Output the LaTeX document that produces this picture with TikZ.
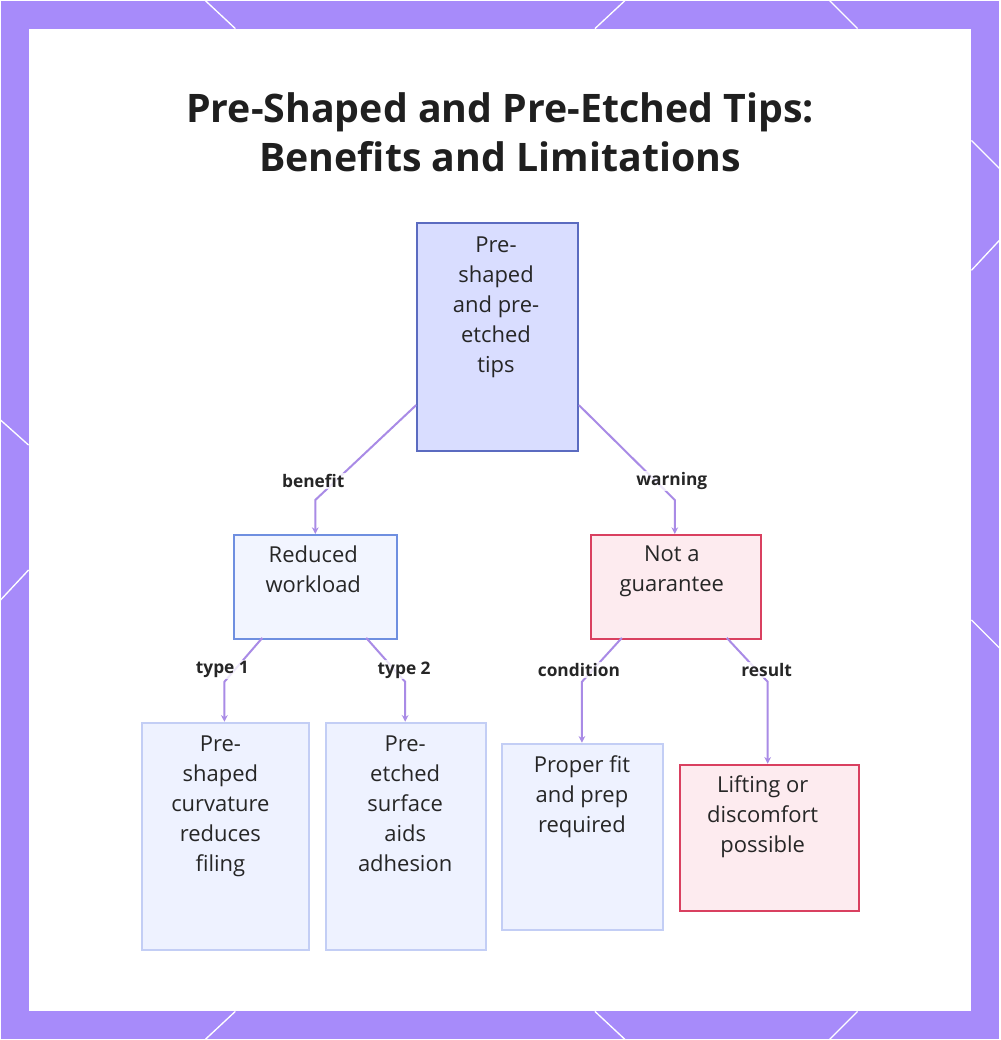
\documentclass[tikz,border=0pt]{standalone}
\usepackage{fontspec}
\setmainfont{Open Sans}
\usetikzlibrary{arrows.meta}
\definecolor{frame}{HTML}{A78BFA}
\definecolor{edge}{HTML}{A98BE6}
\definecolor{rootfill}{HTML}{D9DDFF}
\definecolor{rootdraw}{HTML}{5B6BC0}
\definecolor{bluefill}{HTML}{F2F5FF}
\definecolor{bluedraw}{HTML}{6F8FE0}
\definecolor{leaffill}{HTML}{EEF2FF}
\definecolor{leafdraw}{HTML}{C3CEF5}
\definecolor{redfill}{HTML}{FDEBEF}
\definecolor{reddraw}{HTML}{D94060}
\begin{document}
\begin{tikzpicture}[x=0.75pt,y=-0.75pt,
  box/.style={draw,line width=1.5pt,inner sep=0,anchor=north west},
  txt/.style={align=center,font=\fontsize{16.5}{22.5}\selectfont,text=black!85,anchor=north,inner sep=0},
  conn/.style={edge,line width=1.5pt,-{Stealth[length=5pt,width=5pt]}},
  lab/.style={font=\bfseries\fontsize{13}{15}\selectfont,text=black!85,fill=white,fill opacity=0.8,text opacity=1,inner sep=1pt}]
\fill[frame] (0,0) rectangle (1000,1040);
\fill[white] (28,28) rectangle (972,1012);
\begin{scope}[white,line width=1pt]
\draw (205,0)--(235,28); \draw (595,28)--(625,0); \draw (830,0)--(858,28);
\draw (972,140)--(1000,168); \draw (972,270)--(1000,240); \draw (972,620)--(1000,648);
\draw (0,420)--(28,445); \draw (0,600)--(28,570);
\draw (205,1040)--(235,1012); \draw (595,1012)--(625,1040); \draw (830,1040)--(858,1012);
\end{scope}
\node[font=\bfseries\fontsize{29.5}{37}\selectfont,text=black!88,align=center] (title) at (500,132) {Pre-Shaped and Pre-Etched Tips:\\Benefits and Limitations};
\node[box,draw=rootdraw,fill=rootfill,minimum width=161*0.75pt,minimum height=228*0.75pt] (root) at (416,222) {};
\node[txt] (rootT) at (496,236) {Pre-\\shaped\\and pre-\\etched\\tips};
\node[box,draw=bluedraw,fill=bluefill,minimum width=163*0.75pt,minimum height=104*0.75pt] (rw) at (233,534) {};
\node[txt] (rwT) at (313,546) {Reduced\\workload};
\node[box,draw=reddraw,fill=redfill,minimum width=170*0.75pt,minimum height=104*0.75pt] (ng) at (590,534) {};
\node[txt] (ngT) at (672,546) {Not a\\guarantee};
\node[box,draw=leafdraw,fill=leaffill,minimum width=167*0.75pt,minimum height=228*0.75pt] (ps) at (141,722) {};
\node[txt] (psT) at (220,736) {Pre-\\shaped\\curvature\\reduces\\filing};
\node[box,draw=leafdraw,fill=leaffill,minimum width=160*0.75pt,minimum height=228*0.75pt] (pe) at (325,722) {};
\node[txt] (peT) at (405,736) {Pre-\\etched\\surface\\aids\\adhesion};
\node[box,draw=leafdraw,fill=leaffill,minimum width=161*0.75pt,minimum height=187*0.75pt] (pf) at (501,743) {};
\node[txt] (pfT) at (582,756) {Proper fit\\and prep\\required};
\node[box,draw=reddraw,fill=redfill,minimum width=179*0.75pt,minimum height=146*0.75pt] (lf) at (679,764) {};
\node[txt] (lfT) at (763,776) {Lifting or\\discomfort\\possible};
\coordinate (b1) at (315,500); \coordinate (b2) at (675,500);
\coordinate (b3) at (224,682); \coordinate (b4) at (405,682);
\coordinate (b5) at (582,682); \coordinate (b6) at (768,682);
\draw[conn] (root.west |- 0,405) -- (b1) -- (rw.north -| b1);
\draw[conn] (root.east |- 0,405) -- (b2) -- (ng.north -| b2);
\draw[conn] (262,638) -- (b3) -- (ps.north -| b3);
\draw[conn] (366,638) -- (b4) -- (pe.north -| b4);
\draw[conn] (622,638) -- (b5) -- (pf.north -| b5);
\draw[conn] (727,638) -- (b6) -- (lf.north -| b6);
\node[lab] (l1) at (313,481) {benefit};
\node[lab] (l2) at (672,481) {warning};
\node[lab] (l3) at (222,670) {type 1};
\node[lab] (l4) at (404,670) {type 2};
\node[lab] (l5) at (579,670) {condition};
\node[lab] (l6) at (767,670) {result};
\end{tikzpicture}
\end{document}
